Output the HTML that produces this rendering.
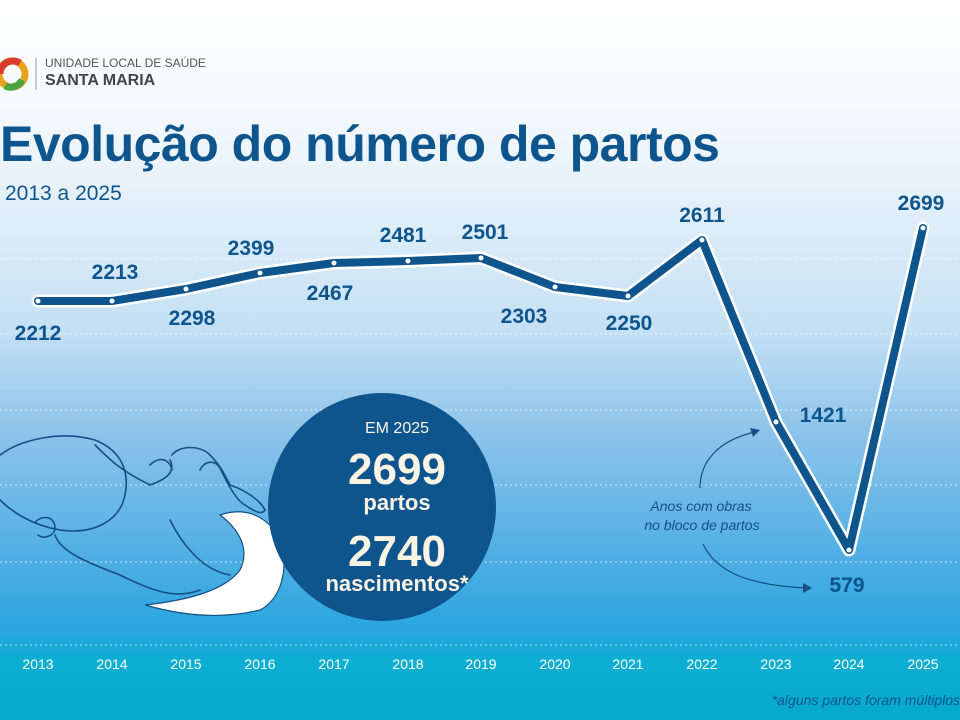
<!DOCTYPE html>
<html><head><meta charset="utf-8"><style>
html,body{margin:0;padding:0}
body{width:960px;height:720px;overflow:hidden;position:relative;font-family:"Liberation Sans",sans-serif;
background:linear-gradient(180deg,#ffffff 0px,#f6fafe 100px,#e4f0fa 200px,#c4e0f4 330px,#8ec4ea 430px,#4eaee3 560px,#2aa6df 630px,#0caed2 660px,#07a9c9 720px);}
.t{position:absolute;white-space:nowrap}
</style></head><body>
<svg width="960" height="720" style="position:absolute;left:0;top:0">
 <g stroke="#ffffff" stroke-opacity="0.7" stroke-width="1" stroke-dasharray="2,3">
  <line x1="0" y1="259" x2="960" y2="259"/>
  <line x1="0" y1="334" x2="960" y2="334"/>
  <line x1="0" y1="410" x2="960" y2="410"/>
  <line x1="0" y1="485" x2="960" y2="485"/>
  <line x1="0" y1="562" x2="960" y2="562"/>
  <line x1="0" y1="645" x2="960" y2="645"/>
 </g>
 <circle cx="12" cy="74" r="13" fill="none" stroke="#e8a21d" stroke-width="7"/>
 <path d="M0 74 A13 13 0 0 1 20 63" fill="none" stroke="#d63b2c" stroke-width="7"/>
 <path d="M22 80 A13 13 0 0 1 5 86" fill="none" stroke="#4aa541" stroke-width="7"/>
 <line x1="36" y1="58" x2="36" y2="90" stroke="#999" stroke-width="1"/>
 <g fill="none" stroke="#164f85" stroke-width="1.6" stroke-linecap="round">
  <path d="M0 455 C20 440 60 430 95 440 C120 450 130 470 125 495 C120 520 95 535 60 530 C30 525 10 510 0 500"/>
  <path d="M35 523 C40 515 55 515 55 528 C55 535 45 540 38 535"/>
  <path d="M95 445 C110 460 120 470 150 485 C170 478 175 470 170 460"/>
  <path d="M150 465 C160 455 170 460 172 470"/>
  <path d="M172 455 C180 445 200 445 210 455 C220 465 225 475 230 485 C245 490 260 500 265 510"/>
  <path d="M200 470 C205 460 215 460 220 468 C225 478 235 500 245 505 C255 512 262 515 265 510"/>
  <path d="M55 535 C60 550 80 560 120 575 C150 590 175 600 200 590"/>
  <path d="M170 520 C180 540 200 570 230 575"/>
 </g>
 <path d="M220 515 C250 505 270 520 280 540 C290 570 280 600 260 610 C220 620 180 615 145 605 C190 600 225 590 240 570 C250 550 240 530 220 515Z" fill="#ffffff" stroke="#164f85" stroke-width="1.2"/>
 <circle cx="382" cy="507" r="114" fill="#0e558e"/>
 <g fill="none" stroke="#164f85" stroke-width="1.2">
  <path d="M700 488 C700 460 720 440 755 432"/>
  <path d="M703 544 C715 570 745 585 805 588"/>
 </g>
 <polygon points="760,430 750,428 753,437" fill="#164f85"/>
 <polygon points="812,588 803,583 803,593" fill="#164f85"/>
 <polyline points="38,301 112,301 186,289 260,273 334,263 408,261 481,258 555,287 628,296 702,240 776,422 849,550 923,228" fill="none" stroke="#ffffff" stroke-width="13" stroke-linejoin="round" stroke-linecap="round"/>
 <polyline points="38,301 112,301 186,289 260,273 334,263 408,261 481,258 555,287 628,296 702,240 776,422 849,550 923,228" fill="none" stroke="#0e558e" stroke-width="8" stroke-linejoin="round" stroke-linecap="round"/>
 <g fill="#ffffff">
  <circle cx="38" cy="301" r="2.5"/><circle cx="112" cy="301" r="2.5"/><circle cx="186" cy="289" r="2.5"/><circle cx="260" cy="273" r="2.5"/><circle cx="334" cy="263" r="2.5"/><circle cx="408" cy="261" r="2.5"/><circle cx="481" cy="258" r="2.5"/><circle cx="555" cy="287" r="2.5"/><circle cx="628" cy="296" r="2.5"/><circle cx="702" cy="240" r="2.5"/><circle cx="776" cy="422" r="2.5"/><circle cx="849" cy="550" r="2.5"/><circle cx="923" cy="228" r="2.5"/>
 </g>
 <g font-family="Liberation Sans, sans-serif" font-size="21" font-weight="bold" fill="#0e558e" text-anchor="middle">
  <text x="38" y="340">2212</text><text x="115" y="279">2213</text><text x="192" y="325">2298</text>
  <text x="251" y="255">2399</text><text x="330" y="300">2467</text><text x="403" y="242">2481</text>
  <text x="485" y="239">2501</text><text x="524" y="323">2303</text><text x="629" y="330">2250</text>
  <text x="702" y="222">2611</text><text x="823" y="422">1421</text><text x="847" y="592">579</text>
  <text x="921" y="210">2699</text>
 </g>
 <g font-family="Liberation Sans, sans-serif" font-size="14" font-style="italic" fill="#164f85" text-anchor="middle">
  <text x="701" y="511">Anos com obras</text><text x="702" y="530">no bloco de partos</text>
 </g>
 <g font-family="Liberation Sans, sans-serif" font-size="14" fill="#ffffff" text-anchor="middle">
  <text x="38" y="669">2013</text><text x="112" y="669">2014</text><text x="186" y="669">2015</text><text x="260" y="669">2016</text><text x="334" y="669">2017</text><text x="408" y="669">2018</text><text x="481" y="669">2019</text><text x="555" y="669">2020</text><text x="628" y="669">2021</text><text x="702" y="669">2022</text><text x="776" y="669">2023</text><text x="849" y="669">2024</text><text x="923" y="669">2025</text>
 </g>
 <text x="960" y="705" text-anchor="end" font-family="Liberation Sans, sans-serif" font-size="14" font-style="italic" fill="#0e558e">*alguns partos foram múltiplos</text>
 <g font-family="Liberation Sans, sans-serif" fill="#fbf3e4" text-anchor="middle" font-weight="bold">
  <text x="397" y="433" font-size="16" font-weight="normal">EM 2025</text>
  <text x="397" y="484" font-size="44">2699</text>
  <text x="397" y="510" font-size="22">partos</text>
  <text x="397" y="566" font-size="44">2740</text>
  <text x="397" y="591" font-size="22">nascimentos*</text>
 </g>
</svg>
<div class="t" style="left:45px;top:57px;font-size:12px;color:#555;line-height:13px">UNIDADE LOCAL DE SAÚDE</div>
<div class="t" style="left:45px;top:72px;font-size:16px;color:#444;font-weight:bold;line-height:18px">SANTA MARIA</div>
<div class="t" style="left:0px;top:114px;font-size:50px;font-weight:bold;color:#0e558e;line-height:60px;letter-spacing:-0.5px">Evolução do número de partos</div>
<div class="t" style="left:5px;top:182px;font-size:21px;color:#0e558e;line-height:24px">2013 a 2025</div>
</body></html>
